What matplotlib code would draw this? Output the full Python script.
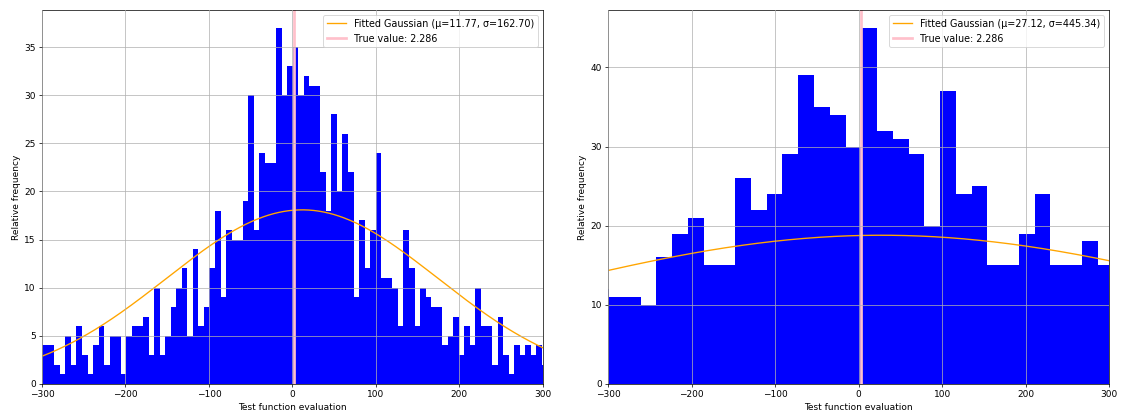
from matplotlib import pyplot as plt
import numpy as np

true_value = 2.286
n_samples = 1111

# left panel: narrow bins
left_start = -305.2
left_width = 6.64
left_counts = [4, 4, 4, 2, 1, 5, 2, 6, 3, 1, 4, 6, 2, 5, 5, 1, 5, 6, 6, 7,
               3, 10, 3, 5, 8, 10, 12, 5, 14, 6, 8, 12, 18, 9, 16, 15, 15, 19, 30, 16,
               24, 23, 23, 37, 30, 33, 35, 30, 32, 31, 31, 22, 18, 28, 20, 26, 22, 9, 17, 12,
               16, 24, 11, 11, 10, 6, 16, 12, 6, 10, 9, 8, 8, 4, 5, 7, 3, 6, 4, 10,
               6, 6, 2, 7, 3, 1, 4, 3, 4, 3, 4, 2]
left_mu, left_sigma = 11.77, 162.70

# right panel: wide bins
right_start = -317.88
right_width = 18.88
right_counts = [12, 11, 11, 10, 16, 19, 21, 15, 15, 26, 22, 24, 29, 39, 35, 34, 30,
                45, 32, 31, 29, 20, 37, 24, 25, 15, 15, 19, 24, 15, 15, 18, 15]
right_mu, right_sigma = 27.12, 445.34


def draw_panel(ax, start, width, counts, mu, sigma):
    edges = start + width * np.arange(len(counts) + 1)
    ax.hist(edges[:-1], bins=edges, weights=counts, color='blue')
    x = np.linspace(-300, 300, 600)
    pdf = np.exp(-0.5 * ((x - mu) / sigma) ** 2) / (sigma * np.sqrt(2 * np.pi))
    ax.plot(x, pdf * n_samples * width, color='orange',
            label=f"Fitted Gaussian (μ={mu:.2f}, σ={sigma:.2f})")
    ax.axvline(true_value, color='pink', linewidth=3, label=f"True value: {true_value}")
    ax.set_xlim(-300, 300)
    ax.set_xlabel("Test function evaluation")
    ax.set_ylabel("Relative frequency")
    ax.grid(True)
    ax.set_axisbelow(False)
    ax.legend(loc='upper right', fontsize=10.7)


fig, (ax1, ax2) = plt.subplots(1, 2, figsize=(17.34, 6.4), dpi=65)
draw_panel(ax1, left_start, left_width, left_counts, left_mu, left_sigma)
draw_panel(ax2, right_start, right_width, right_counts, right_mu, right_sigma)
fig.subplots_adjust(left=0.0373, right=0.984, bottom=0.077, top=0.976, wspace=0.131)
plt.savefig('out.png', dpi=65)
plt.close()
